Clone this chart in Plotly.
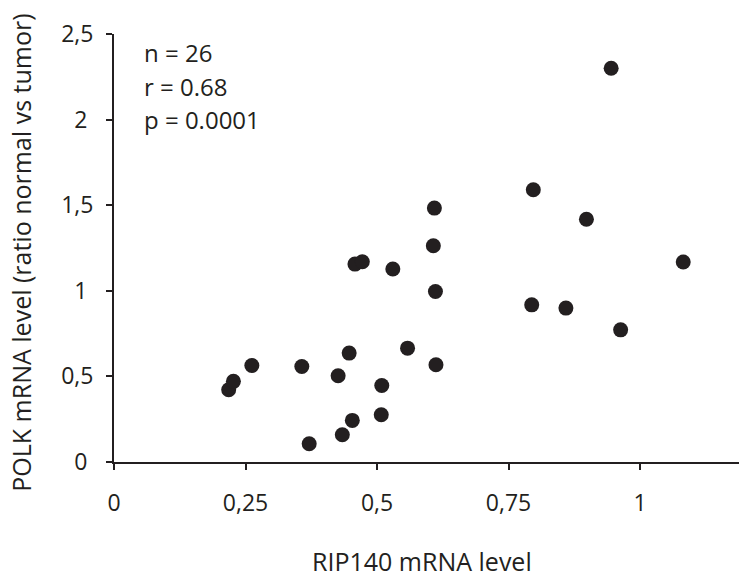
import plotly.graph_objects as go

rip140 = [0.218, 0.227, 0.262, 0.357, 0.371, 0.426, 0.434, 0.447, 0.453,
          0.509, 0.508, 0.558, 0.612, 0.611, 0.794, 0.859, 0.963,
          0.945, 0.797, 0.609, 0.607, 0.530, 0.898, 1.082, 0.458, 0.472]
polk = [0.422, 0.471, 0.564, 0.558, 0.107, 0.504, 0.159, 0.636, 0.243,
        0.447, 0.276, 0.665, 0.568, 0.996, 0.918, 0.899, 0.772,
        2.30, 1.59, 1.483, 1.263, 1.127, 1.418, 1.168, 1.156, 1.170]

x_tickvals = [0, 0.25, 0.5, 0.75, 1]
x_ticktext = ["0", "0,25", "0,5", "0,75", "1"]
y_tickvals = [0, 0.5, 1, 1.5, 2, 2.5]
y_ticktext = ["0\u00a0", "0,5", "1\u00a0", "1,5", "2\u00a0", "2,5"]
stats_lines = ["n = 26", "r = 0.68", "p = 0.0001"]

x_title = "RIP140 mRNA level"
y_title = "POLK mRNA level (ratio normal vs tumor)"

ink = "#231f20"
FONT = "Open Sans"
FS_TICK = 23
FS_STATS = 24
FS_TITLE = 25
W, H = 739, 578
ML, MR, MT, MB = 114, 0, 34, 115.5

fig = go.Figure()
fig.add_trace(go.Scatter(
    x=rip140, y=polk, mode="markers",
    marker=dict(color=ink, size=15, line=dict(width=0)),
    cliponaxis=False, showlegend=False,
))

axis_common = dict(
    showgrid=False, zeroline=False, showline=True, linecolor=ink, linewidth=2,
    ticks="outside", ticklen=6, tickwidth=2, tickcolor=ink,
    tickfont=dict(family=FONT, size=FS_TICK, color=ink), fixedrange=True,
)
fig.update_xaxes(range=[0, 1.188], tickmode="array", tickvals=x_tickvals,
                 ticktext=x_ticktext, ticklabelstandoff=13, **axis_common)
fig.update_yaxes(range=[0, 2.5], tickmode="array", tickvals=y_tickvals,
                 ticktext=y_ticktext, ticklabelstandoff=8, **axis_common)

annotations = []
for i, line in enumerate(stats_lines):
    annotations.append(dict(
        text=line, xref="paper", yref="paper", x=(142 - ML) / (W - ML - MR),
        y=1 - ((53 + 33.3 * i) - MT) / (H - MT - MB),
        xanchor="left", yanchor="middle", showarrow=False,
        font=dict(family=FONT, size=FS_STATS, color=ink),
    ))
annotations.append(dict(
    text=x_title, xref="paper", yref="paper",
    x=(421.7 - ML) / (W - ML - MR), y=-(562 - (H - MB)) / (H - MT - MB),
    xanchor="center", yanchor="middle", showarrow=False,
    font=dict(family=FONT, size=FS_TITLE, color=ink),
))
annotations.append(dict(
    text=y_title, xref="paper", yref="paper", textangle=-90,
    x=-(ML - 21) / (W - ML - MR), y=1 - (253 - MT) / (H - MT - MB),
    xanchor="center", yanchor="middle", showarrow=False,
    font=dict(family=FONT, size=FS_TITLE, color=ink),
))

fig.update_layout(
    width=W, height=H,
    margin=dict(l=ML, r=MR, t=MT, b=MB, pad=0),
    paper_bgcolor="white", plot_bgcolor="white",
    annotations=annotations,
    font=dict(family=FONT, color=ink),
)
fig.write_html("out.html", config={"displayModeBar": False},
               post_script="document.body.style.margin='0';document.body.style.padding='0';")
